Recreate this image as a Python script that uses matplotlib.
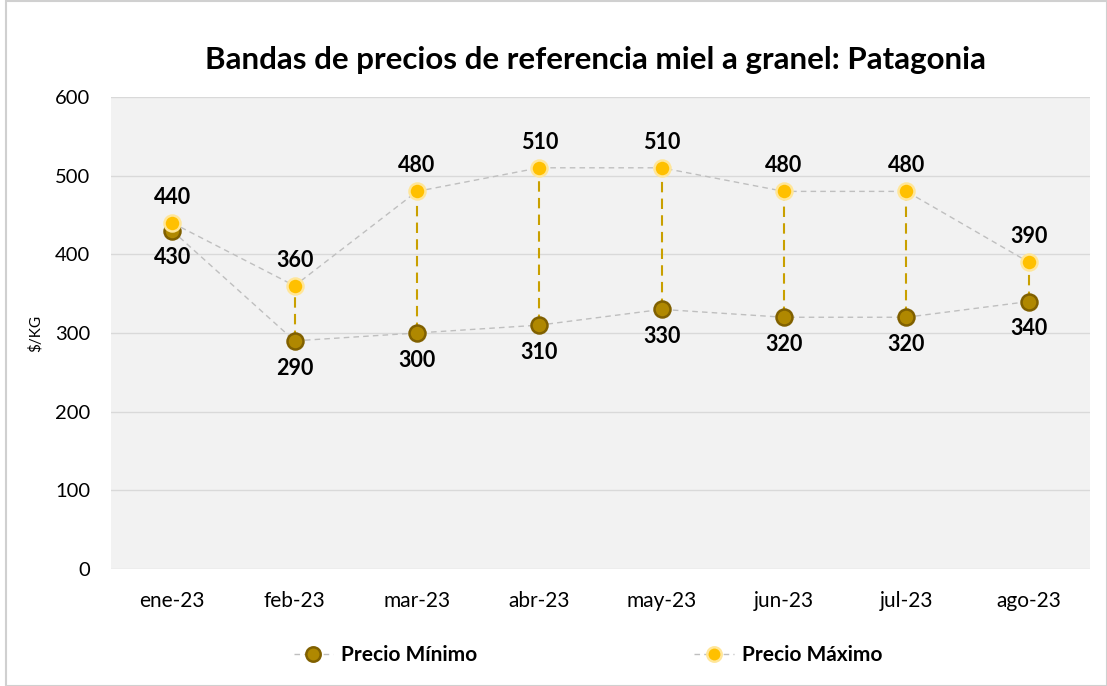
import matplotlib.pyplot as plt
import numpy as np

meses = ['ene-23', 'feb-23', 'mar-23', 'abr-23', 'may-23', 'jun-23', 'jul-23', 'ago-23']
precio_min = [430, 290, 300, 310, 330, 320, 320, 340]
precio_max = [440, 360, 480, 510, 510, 480, 480, 390]

plt.rcParams['font.family'] = ['Lato', 'DejaVu Sans']

fig = plt.figure(figsize=(11.07, 6.86), dpi=100)
ax = fig.add_axes([0.1003, 0.1706, 0.8843, 0.688])
ax.set_facecolor('#F2F2F2')

x = np.arange(len(meses))

# lineas verticales entre minimo y maximo
ax.vlines(x, precio_min, precio_max, colors='#C9A000', linestyles=(0, (5, 3)), linewidth=1.5, zorder=2)

ax.plot(x, precio_min, color='#BFBFBF', linestyle=(0, (4, 3)), linewidth=1, marker='o',
        markersize=11.5, markerfacecolor='#B08800', markeredgecolor='#806000', markeredgewidth=1.8,
        label='Precio Mínimo', zorder=3)
ax.plot(x, precio_max, color='#BFBFBF', linestyle=(0, (4, 3)), linewidth=1, marker='o',
        markersize=11.5, markerfacecolor='#FFC000', markeredgecolor='#FFE699', markeredgewidth=1.8,
        label='Precio Máximo', zorder=4)

for xi, v in zip(x, precio_min):
    ax.annotate(str(v), (xi, v), xytext=(0, -12), textcoords='offset points',
                ha='center', va='top', fontsize=15.5, fontweight='bold')
for xi, v in zip(x, precio_max):
    ax.annotate(str(v), (xi, v), xytext=(0, 11), textcoords='offset points',
                ha='center', va='bottom', fontsize=15.5, fontweight='bold')

ax.set_xlim(-0.5, len(meses) - 0.5)
ax.set_ylim(0, 600)
ax.set_yticks(range(0, 601, 100))
ax.set_xticks(x, meses)
ax.tick_params(axis='y', length=0, labelsize=14.5, pad=15)
ax.tick_params(axis='x', length=0, labelsize=15, pad=16)
ax.grid(axis='y', color='#D9D9D9', linewidth=1)
ax.set_axisbelow(True)
for s in ax.spines.values():
    s.set_visible(False)

ax.set_ylabel('$/KG', fontsize=11, labelpad=9)

fig.text(0.538, 0.912, 'Bandas de precios de referencia miel a granel: Patagonia',
         ha='center', va='center', fontsize=22.5, fontweight='bold')

leg = fig.legend(loc='center', bbox_to_anchor=(0.531, 0.045), ncol=2, frameon=False,
                 prop={'size': 15, 'weight': 'bold'}, columnspacing=10.4, handlelength=1.9,
                 handletextpad=0.38, markerscale=0.9)

# borde exterior
fig.patches.append(plt.Rectangle((0.005, 0.0), 0.995, 0.998, transform=fig.transFigure,
                                 fill=False, edgecolor='#D0D0D0', linewidth=1.5))

plt.savefig('out.png', dpi=100)
